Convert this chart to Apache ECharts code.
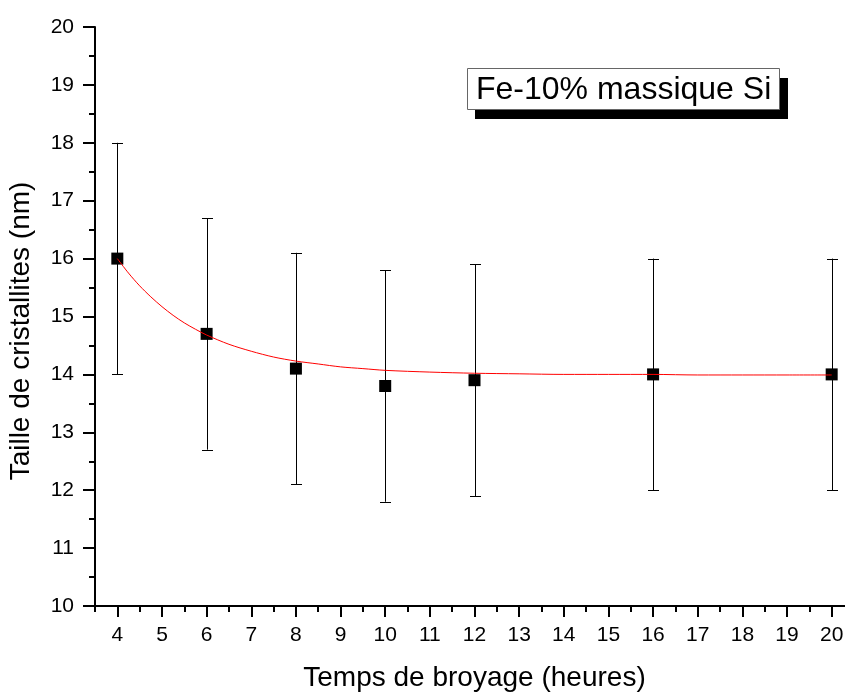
<!DOCTYPE html>
<html>
<head>
<meta charset="utf-8">
<script src="https://cdn.jsdelivr.net/npm/echarts@6/dist/echarts.min.js"></script>
<style>
html,body{margin:0;padding:0;background:#fff;overflow:hidden;width:845px;height:692px;}
#chart{width:854px;height:692px;}
</style>
</head>
<body>
<div id="chart"></div>
<script>
// ---- data ----
const xTickValues = [4,5,6,7,8,9,10,11,12,13,14,15,16,17,18,19,20];
const xMinorTickValues = [3.5,4.5,5.5,6.5,7.5,8.5,9.5,10.5,11.5,12.5,13.5,14.5,15.5,16.5,17.5,18.5,19.5,20.5];
const yTickLabels = [10,11,12,13,14,15,16,17,18,19,20];
const times = [4,6,8,10,12,16,20];
const sizes = [16.0,14.7,14.1,13.8,13.9,14.0,14.0];
const errLow = [14.0,12.7,12.1,11.8,11.9,12.0,12.0];
const errHigh = [18.0,16.7,16.1,15.8,15.9,16.0,16.0];
const fitX = [4,4.25,4.5,4.75,5,5.25,5.5,5.75,6,6.5,7,7.5,8,8.5,9,9.5,10,11,12,13,14,15,16,17,18,19,20];
const fitY = [16.00,15.75,15.53,15.34,15.17,15.02,14.89,14.78,14.68,14.52,14.40,14.30,14.23,14.18,14.13,14.10,14.07,14.04,14.02,14.01,14.00,14.00,14.00,13.99,13.99,13.99,13.99];
const xTitle = 'Temps de broyage (heures)';
const yTitle = 'Taille de cristallites (nm)';
const legendText = 'Fe-10% massique Si';

const FONT = '"Liberation Sans", Arial, Helvetica, sans-serif';
const chart = echarts.init(document.getElementById('chart'), null, {renderer:'canvas', width: 854, height: 692});

const points = times.map((t,i)=>[t, sizes[i]]);
const errData = times.map((t,i)=>[t, errLow[i], errHigh[i]]);
const fitData = fitX.map((x,i)=>[x, fitY[i]]);

const option = {
  animation: false,
  backgroundColor: '#ffffff',
  grid: {left: 95, right: 0, top: 27, bottom: 86, containLabel: false, outerBoundsMode: 'none'},
  xAxis: [{
    type: 'value', min: 3.5, max: 20.5, interval: 0.5, position: 'bottom',
    axisLine: {show: true, onZero: false, lineStyle: {color: '#000', width: 2}},
    axisTick: {show: true, inside: false, length: 11, customValues: xTickValues, lineStyle: {color: '#000', width: 2}},
    axisLabel: {show: true, customValues: xTickValues, margin: 19, color: '#000', fontSize: 21, fontFamily: FONT},
    splitLine: {show: false},
    name: xTitle, nameLocation: 'middle', nameGap: 58,
    nameTextStyle: {color: '#000', fontSize: 28, fontFamily: FONT}
  },{
    type: 'value', min: 3.5, max: 20.5, interval: 0.5, position: 'bottom',
    axisLine: {show: false, onZero: false},
    axisTick: {show: true, inside: false, length: 6, customValues: xMinorTickValues, lineStyle: {color: '#000', width: 2}},
    axisLabel: {show: false},
    splitLine: {show: false}
  }],
  yAxis: {
    type: 'value', min: 10, max: 20, interval: 1,
    axisLine: {show: true, onZero: false, lineStyle: {color: '#000', width: 2}},
    axisTick: {show: true, inside: false, length: 12, lineStyle: {color: '#000', width: 2}},
    minorTick: {show: true, splitNumber: 2, length: 6, lineStyle: {color: '#000', width: 2}},
    axisLabel: {margin: 21, color: '#000', fontSize: 21, fontFamily: FONT,
      formatter: v => yTickLabels.indexOf(v) >= 0 ? String(v) : ''},
    splitLine: {show: false},
    minorSplitLine: {show: false}
  },
  graphic: [
    {type: 'text', x: 21, y: 331, rotation: Math.PI/2, z: 100,
     style: {text: yTitle, font: '28px ' + FONT, fill: '#000', textAlign: 'center', textVerticalAlign: 'middle'}},
    {type: 'rect', shape: {x: 475, y: 78, width: 313, height: 41}, style: {fill: '#000'}, z: 100},
    {type: 'rect', shape: {x: 467.5, y: 68.5, width: 312, height: 41}, style: {fill: '#fff', stroke: '#666', lineWidth: 1}, z: 101},
    {type: 'text', x: 476, y: 90, z: 102,
     style: {text: legendText, font: '32px ' + FONT, fill: '#000', textAlign: 'left', textVerticalAlign: 'middle'}}
  ],
  series: [
    {
      type: 'custom', xAxisIndex: 0, yAxisIndex: 0, z: 2,
      data: errData,
      renderItem: function(params, api){
        const x = api.value(0);
        const lo = api.coord([x, api.value(1)]);
        const hi = api.coord([x, api.value(2)]);
        const cx = Math.round(lo[0]) + 0.5;
        const half = 5.5;
        const st = {stroke: '#000', lineWidth: 1};
        return {type: 'group', children: [
          {type: 'line', shape: {x1: cx, y1: hi[1], x2: cx, y2: lo[1]}, style: st},
          {type: 'line', shape: {x1: cx - half, y1: Math.round(hi[1]) + 0.5, x2: cx + half, y2: Math.round(hi[1]) + 0.5}, style: st},
          {type: 'line', shape: {x1: cx - half, y1: Math.round(lo[1]) + 0.5, x2: cx + half, y2: Math.round(lo[1]) + 0.5}, style: st}
        ]};
      }
    },
    {
      type: 'scatter', xAxisIndex: 0, yAxisIndex: 0, z: 3,
      symbol: 'rect', symbolSize: 12,
      itemStyle: {color: '#000', opacity: 1},
      data: points
    },
    {
      type: 'line', xAxisIndex: 0, yAxisIndex: 0, z: 4,
      showSymbol: false, symbol: 'none', smooth: 0.3,
      lineStyle: {color: '#ff0000', width: 1},
      data: fitData
    }
  ]
};
chart.setOption(option);
</script>
</body>
</html>
